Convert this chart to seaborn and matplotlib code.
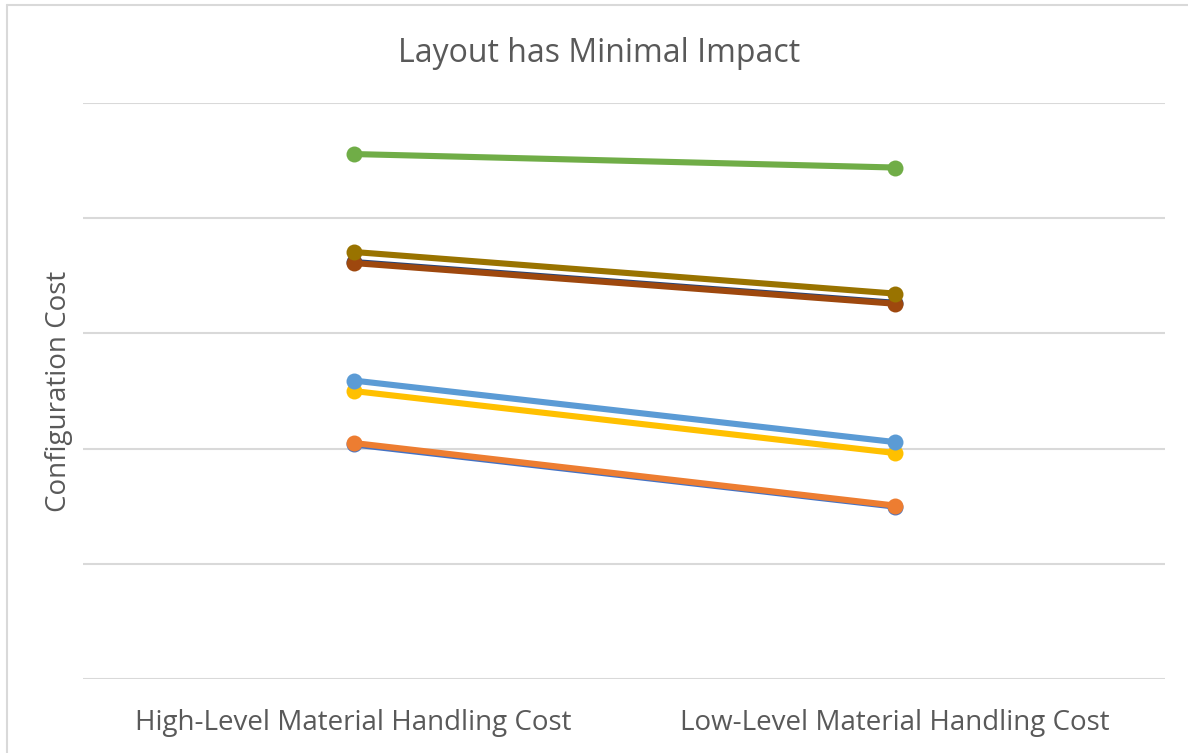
import matplotlib
matplotlib.use("Agg")
import matplotlib.pyplot as plt
from matplotlib.lines import Line2D
import pandas as pd
import seaborn as sns

# Categories on the x axis
categories = ["High-Level Material Handling Cost", "Low-Level Material Handling Cost"]

# Configuration cost per layout (high-level, low-level)
series_1 = [2.036, 1.497]
series_2 = [2.049, 1.506]
series_4 = [2.500, 1.962]
series_5 = [2.591, 2.057]
series_6 = [4.557, 4.440]
series_7 = [3.620, 3.266]
series_8 = [3.611, 3.258]
series_10 = [3.707, 3.346]

series_names = ["Series1", "Series2", "Series4", "Series5",
                "Series6", "Series7", "Series8", "Series10"]
series_values = [series_1, series_2, series_4, series_5,
                 series_6, series_7, series_8, series_10]
series_colors = ["#4472C4", "#ED7D31", "#FFC000", "#5B9BD5",
                 "#70AD47", "#264478", "#9E480E", "#997300"]

rows = []
for name, vals in zip(series_names, series_values):
    for cat, v in zip(categories, vals):
        rows.append({"Layout": name, "Category": cat, "Cost": v})
df = pd.DataFrame(rows)

sns.set_theme(style="white")
plt.rcParams["font.family"] = ["Open Sans", "DejaVu Sans"]

fig = plt.figure(figsize=(11.88, 7.53), dpi=100)
ax = fig.add_axes([83 / 1188, 1 - 679 / 753, (1165 - 83) / 1188, (679 - 103) / 753])

sns.lineplot(data=df, x="Category", y="Cost", hue="Layout",
             hue_order=series_names, palette=series_colors,
             marker="o", markersize=11.5, markeredgewidth=0,
             linewidth=4.4, sort=False, legend=False, ax=ax)

ax.set_xlim(-0.5, 1.5)
ax.set_ylim(0, 5)
ax.set_yticks([0, 1, 2, 3, 4, 5])
ax.set_yticklabels([])
ax.grid(axis="y", color="#D9D9D9", linewidth=1.5)
ax.set_axisbelow(True)
for side in ["top", "right", "left", "bottom"]:
    ax.spines[side].set_visible(False)
ax.tick_params(axis="both", length=0)
ax.tick_params(axis="x", labelsize=20, labelcolor="#595959", pad=21.5)
ax.set_xlabel("")
ax.set_ylabel("Configuration Cost", fontsize=20, color="#595959")
ax.yaxis.set_label_coords(-0.009, 0.5)

fig.text(0.5045, 1 - 53 / 753, "Layout has Minimal Impact", ha="center", va="center",
         fontsize=23, color="#595959")

# Chart-area border
fig.add_artist(Line2D([7 / 1188, 7 / 1188], [0, 1 - 5 / 753], transform=fig.transFigure,
                      color="#D9D9D9", linewidth=1.5))
fig.add_artist(Line2D([7 / 1188, 1], [1 - 5 / 753, 1 - 5 / 753], transform=fig.transFigure,
                      color="#D9D9D9", linewidth=1.5))

fig.savefig("out.png", dpi=100, facecolor="white")
